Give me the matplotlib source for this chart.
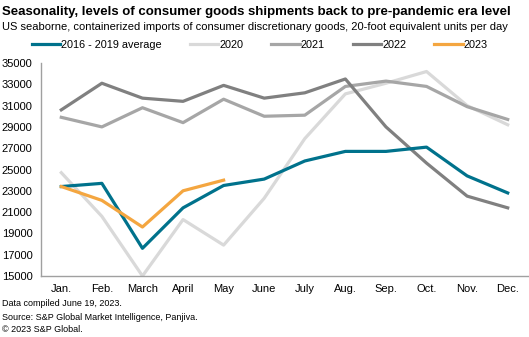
import matplotlib
matplotlib.use("Agg")
import matplotlib.pyplot as plt

plt.rcParams['font.family'] = ['Liberation Sans', 'DejaVu Sans']

months = ['Jan.', 'Feb.', 'March', 'April', 'May', 'June', 'July', 'Aug.',
          'Sep.', 'Oct.', 'Nov.', 'Dec.']
avg_2016_2019 = [23400, 23700, 17600, 21400, 23500, 24100, 25800, 26700,
                 26700, 27100, 24400, 22800]
y2020 = [24700, 20600, 15000, 20300, 17900, 22300, 27900, 32100,
         33100, 34200, 31000, 29200]
y2021 = [29900, 29000, 30800, 29400, 31600, 30000, 30100, 32800,
         33300, 32800, 30900, 29700]
y2022 = [30600, 33100, 31700, 31400, 32900, 31700, 32200, 33500,
         29000, 25600, 22500, 21400]
y2023 = [23400, 22100, 19600, 23000, 24000]

yticks = list(range(15000, 35001, 2000))

fig = plt.figure(figsize=(5.29, 3.37), dpi=100)
ax = fig.add_axes([41/529, 61/337, 487/529, 213/337])

x = range(len(months))
lw = 2.3
ax.plot(x, y2020, color='#D9D9D9', lw=lw, label='2020')
ax.plot(x, y2021, color='#A6A6A6', lw=lw, label='2021')
ax.plot(x, y2022, color='#808080', lw=lw, label='2022')
ax.plot(x, avg_2016_2019, color='#00728C', lw=lw, label='2016 - 2019 average')
ax.plot(range(len(y2023)), y2023, color='#F4A640', lw=lw, label='2023')

ax.set_xlim(-0.5, len(months) - 0.5)
ax.set_ylim(15000, 35000)
ax.set_yticks(yticks)
ax.set_xticks(list(x))
ax.set_xticklabels(months)
ax.tick_params(length=0, labelsize=8, colors='black')
ax.tick_params(axis='y', pad=6)
ax.tick_params(axis='x', pad=6)
for s in ['top', 'right']:
    ax.spines[s].set_visible(False)
for s in ['left', 'bottom']:
    ax.spines[s].set_color('#A0A0A0')
    ax.spines[s].set_linewidth(1)

handles, labels = ax.get_legend_handles_labels()
order = [3, 0, 1, 2, 4]
fig.legend([handles[i] for i in order], [labels[i] for i in order],
           loc='center left', bbox_to_anchor=(32/529, 1 - 45/337), ncol=5,
           frameon=False, fontsize=7.8, handlelength=2.6, handletextpad=0.1,
           columnspacing=2.6, borderaxespad=0, borderpad=0)

fig.text(2/529, 1 - 12/337, 'Seasonality, levels of consumer goods shipments back to pre-pandemic era level',
         fontsize=9.5, fontweight='bold', va='center', ha='left')
fig.text(2/529, 1 - 27/337, 'US seaborne, containerized imports of consumer discretionary goods, 20-foot equivalent units per day',
         fontsize=8, va='center', ha='left')

fig.text(2/529, 1 - 304/337, 'Data compiled June 19, 2023.', fontsize=6.5, va='center', ha='left')
fig.text(2/529, 1 - 317/337, 'Source: S&P Global Market Intelligence, Panjiva.', fontsize=6.5, va='center', ha='left')
fig.text(2/529, 1 - 329/337, '\u00a9 2023 S&P Global.', fontsize=6.5, va='center', ha='left')

fig.savefig('out.png', dpi=100)
